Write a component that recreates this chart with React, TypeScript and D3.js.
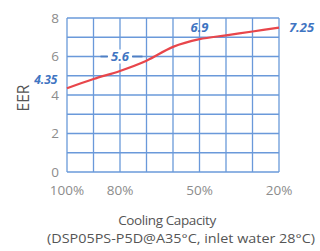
import React from 'react'
import * as d3 from 'd3'

// capacity (%) along the curve, and EER
const capacity = [100, 90, 80, 70, 60, 50, 40, 30, 20]
const eer = [4.35, 4.83, 5.25, 5.78, 6.5, 6.9, 7.1, 7.3, 7.5]

const yTicks = [0, 2, 4, 6, 8]
const xTickLabels = [100, 80, 50, 20]

// callouts: text, capacity it sits at, EER level it sits at
const calloutText = ['4.35', '5.6', '6.9', '7.25']
const calloutCap = [108, 80, 50, 11.5]
const calloutEer = [4.8, 6, 7.5, 7.5]

const W = 320, H = 251
const margin = { left: 67, right: 41, top: 18, bottom: 79 }

const GRID = '#5a8fd6'
const LABEL_BLUE = '#3f75c2'
const RED = '#e8464b'
const GREY = '#8c8c8c'

const App = () => {
    const x = d3.scaleLinear().domain([100, 20]).range([margin.left, W - margin.right])
    const y = d3.scaleLinear().domain([0, 8]).range([H - margin.bottom, margin.top])

    const line = d3.line<number>()
        .x((d, i) => x(capacity[i]))
        .y(d => y(d))
        .curve(d3.curveCatmullRom.alpha(0.5))

    const vGrid = d3.range(100, 19, -10)
    const hGrid = d3.range(0, 9, 1)
    const font = "'Open Sans', 'Noto Sans', sans-serif"

    return (
        <svg width={W} height={H} style={{ position: 'absolute', left: 0, top: 0 }} fontFamily={font}>
            <rect width={W} height={H} fill="#fff" />
            <g stroke={GRID} strokeWidth={1.3} opacity={0.9}>
                {vGrid.map(v => <line key={'v' + v} x1={x(v)} x2={x(v)} y1={y(0)} y2={y(8)} />)}
                {hGrid.map(v => <line key={'h' + v} x1={x(100)} x2={x(20)} y1={y(v)} y2={y(v)} />)}
            </g>

            {/* leader for 5.6 */}
            <rect x={x(80) - 13} y={y(6) - 7} width={26} height={14} fill="#fff" />
            <line x1={x(90) + 7} x2={x(80) - 12} y1={y(6)} y2={y(6)} stroke="#4f7fc4" strokeWidth={1.8} />
            <line x1={x(80) + 12} x2={x(70) - 4} y1={y(6)} y2={y(6)} stroke="#4f7fc4" strokeWidth={1.8} />

            <path d={line(eer) || ''} fill="none" stroke={RED} strokeWidth={2.2} />

            {calloutText.map((t, i) => (
                <text key={t} x={x(calloutCap[i])} y={y(calloutEer[i])} dy="0.36em" textAnchor="middle"
                    fill={LABEL_BLUE} fontWeight="bold" fontStyle="italic" fontSize={i === 0 ? 12 : 13}>{t}</text>
            ))}

            {yTicks.map(t => (
                <text key={t} x={x(100) - 8} y={y(t)} dy="0.36em" textAnchor="end" fill={GREY} fontSize={13.5}>{t}</text>
            ))}
            {xTickLabels.map(t => (
                <text key={t} x={x(t)} y={y(0) + 18} dy="0.36em" textAnchor="middle" fill={GREY} fontSize={13.5}>{t}%</text>
            ))}

            <text transform={`translate(23,98) rotate(-90)`} textAnchor="middle" dy="0.36em" fill="#555" fontSize={15.5}>EER</text>
            <text x={167} y={220} dy="0.36em" textAnchor="middle" fill="#555" fontSize={13.5} letterSpacing={-0.4}>Cooling Capacity</text>
            <text x={181} y={238} dy="0.36em" textAnchor="middle" fill="#555" fontSize={13.5} textLength={268} lengthAdjust="spacingAndGlyphs">(DSP05PS-P5D@A35°C, inlet water 28°C)</text>
        </svg>
    )
}

export default App
